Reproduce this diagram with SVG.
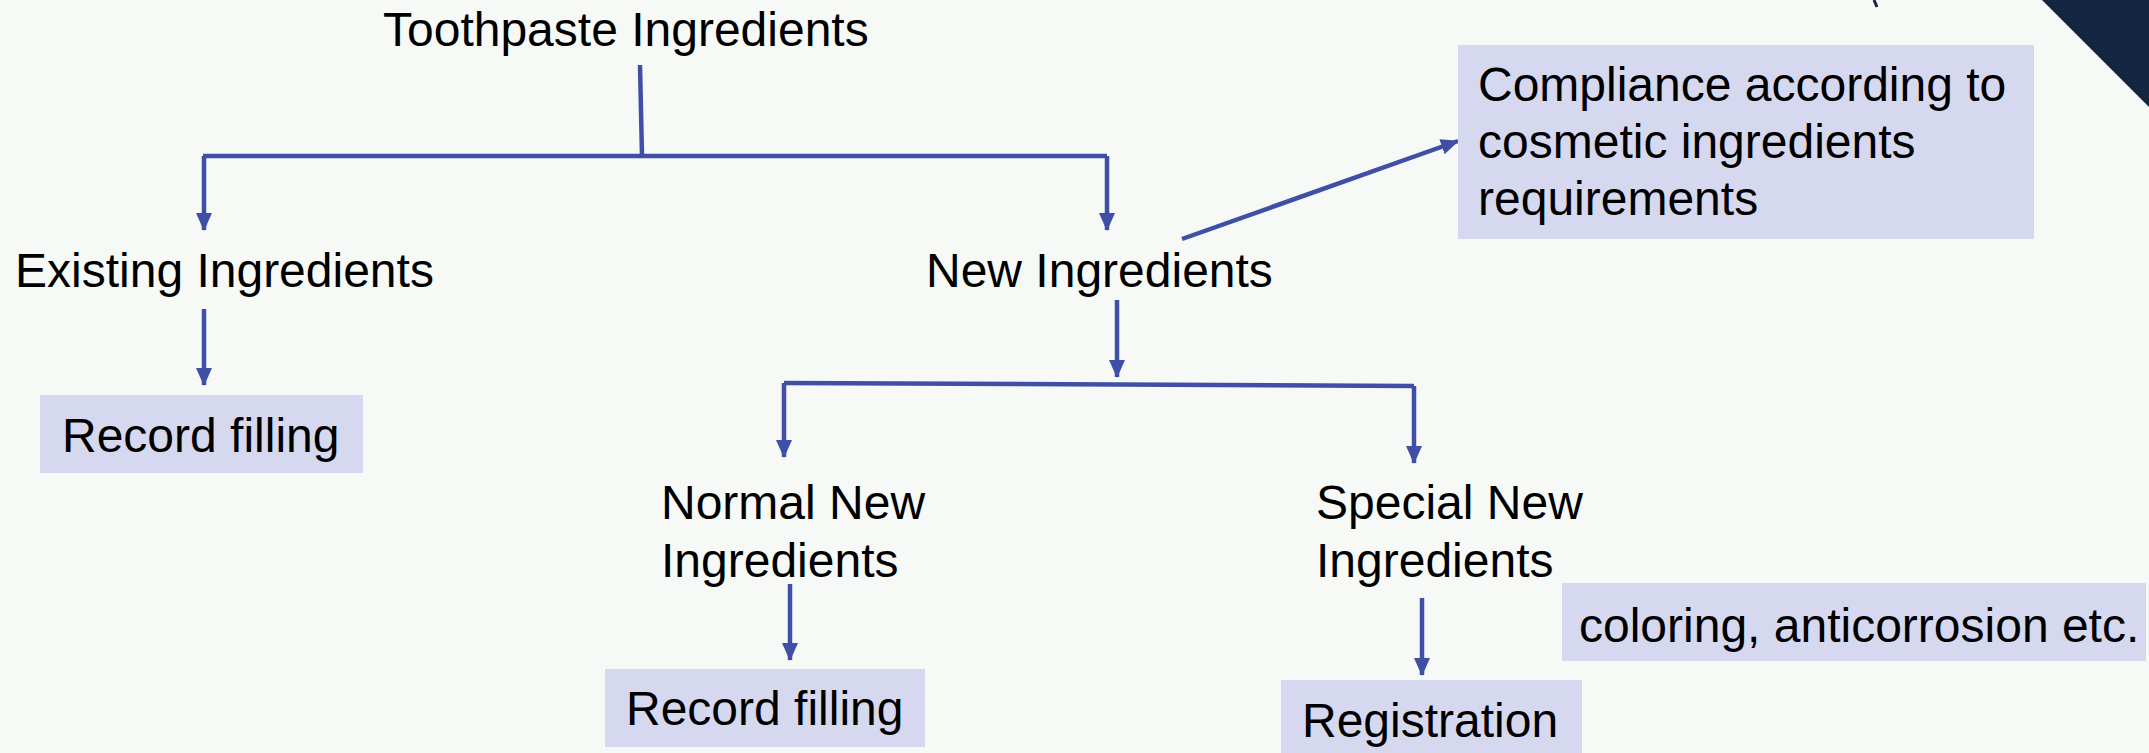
<svg xmlns="http://www.w3.org/2000/svg" width="2149" height="753" viewBox="0 0 2149 753">
<style>
.t{font-family:"Liberation Sans",Arial,sans-serif;font-size:48px;fill:#000}
.box{fill:#d5d8ee}
.ln{fill:none;stroke:#3f4fa5;stroke-width:4.5}
</style>
<defs>
<marker id="ah" viewBox="0 0 18 16" refX="17" refY="8" markerWidth="18" markerHeight="16" markerUnits="userSpaceOnUse" orient="auto">
<path d="M0,0 L18,8 L0,16 z" fill="#3f4fa5"/>
</marker>
</defs>
<rect width="2149" height="753" fill="#f7f9f7"/>
<polygon points="2042,0 2149,0 2149,107" fill="#13263f"/>
<line x1="1874" y1="0" x2="1877" y2="7" stroke="#13263f" stroke-width="3"/>
<g id="connectors">
<polyline class="ln" points="640,65 642,156"/>
<polyline class="ln" points="1107,156 203,156"/>
<line class="ln" x1="204" y1="156" x2="204" y2="230" marker-end="url(#ah)"/>
<line class="ln" x1="1107" y1="156" x2="1107" y2="230" marker-end="url(#ah)"/>
<line class="ln" x1="204" y1="309" x2="204" y2="385" marker-end="url(#ah)"/>
<line class="ln" x1="1182" y1="239" x2="1458" y2="141" marker-end="url(#ah)" stroke-width="5"/>
<line class="ln" x1="1117" y1="300" x2="1117" y2="377" marker-end="url(#ah)"/>
<polyline class="ln" points="784,383 1414,386"/>
<line class="ln" x1="784" y1="383" x2="784" y2="457" marker-end="url(#ah)"/>
<line class="ln" x1="1414" y1="386" x2="1414" y2="463" marker-end="url(#ah)"/>
<line class="ln" x1="790" y1="584" x2="790" y2="660" marker-end="url(#ah)"/>
<line class="ln" x1="1422" y1="598" x2="1422" y2="675" marker-end="url(#ah)"/>
</g>
<g id="toothpaste"><text class="t" x="383" y="46">Toothpaste Ingredients</text></g>
<g id="existing"><text class="t" x="15" y="287">Existing Ingredients</text></g>
<g id="new"><text class="t" x="926" y="287">New Ingredients</text></g>
<g id="record1"><rect class="box" x="40" y="395" width="323" height="78"/><text class="t" x="62" y="452">Record filling</text></g>
<g id="compliance"><rect class="box" x="1458" y="45" width="576" height="194"/>
<text class="t" x="1478" y="101">Compliance according to</text>
<text class="t" x="1478" y="158">cosmetic ingredients</text>
<text class="t" x="1478" y="215">requirements</text></g>
<g id="normal"><text class="t" x="661" y="519">Normal New</text><text class="t" x="661" y="577">Ingredients</text></g>
<g id="special"><text class="t" x="1316" y="519">Special New</text><text class="t" x="1316" y="577">Ingredients</text></g>
<g id="record2"><rect class="box" x="605" y="669" width="320" height="78"/><text class="t" x="626" y="725">Record filling</text></g>
<g id="registration"><rect class="box" x="1281" y="680" width="301" height="80"/><text class="t" x="1302" y="737">Registration</text></g>
<g id="coloring"><rect class="box" x="1562" y="583" width="584" height="78"/><text class="t" x="1579" y="642">coloring, anticorrosion etc.</text></g>
</svg>
